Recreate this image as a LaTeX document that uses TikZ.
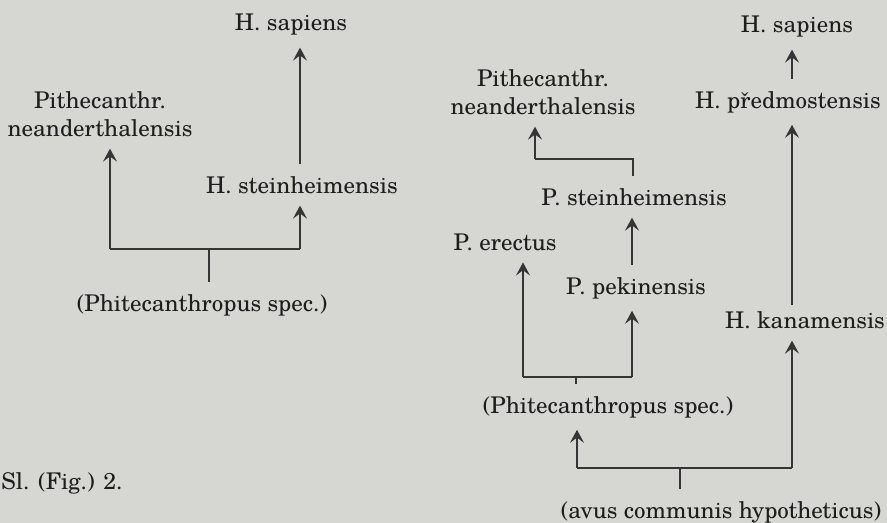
\documentclass[tikz,border=0pt]{standalone}
\usepackage{fontspec}
\setmainfont{TeX Gyre Schola}
\usepackage{xcolor}
\usetikzlibrary{arrows.meta}

\definecolor{paper}{RGB}{214,214,211}
\definecolor{ink}{RGB}{30,30,30}

\begin{document}
\begin{tikzpicture}[
  x=0.5pt, y=-0.5pt,
  taxon/.style={text=ink, font=\fontsize{11.5}{14}\selectfont, inner sep=1pt, outer sep=5pt},
  stem/.style={draw=ink!90, line width=0.7pt},
  arr/.style={stem, -{Stealth[length=6.5pt, width=7pt, inset=2.6pt]}}
]
\useasboundingbox (0,0) rectangle (887,523);
\fill[paper] (0,0) rectangle (887,523);

% left tree
\node [taxon] (sapL)   at (291,25)  {H. sapiens};
\node [taxon, align=center] (neanL) at (100,114) {Pithecanthr.\\neanderthalensis};
\node [taxon] (steinL) at (302,185) {H. steinheimensis};
\node [taxon] (phitL)  at (202,305) {(Phitecanthropus spec.)};
\node [taxon] (fig)    at (62,483)  {Sl. (Fig.) 2.};

\coordinate (legH)  at (110,249);
\coordinate (stemA) at (209,249);
\coordinate (legI)  at (300,249);
\draw [stem] (legH) -- (legI);
\draw [stem] (phitL.north -| stemA) -- (stemA);
\draw [arr] (legH) -- (legH |- neanL.south);
\draw [arr] (legI) -- (legI |- steinL.south);
\draw [arr] (steinL.north -| legI) -- (legI |- sapL.south);

% right tree
\node [taxon] (sapR)   at (797,27)  {H. sapiens};
\node [taxon] (predR)  at (788,102) {H. předmostensis};
\node [taxon, align=center] (neanR) at (543,92) {Pithecanthr.\\neanderthalensis};
\node [taxon] (steinR) at (634,197) {P. steinheimensis};
\node [taxon] (erR)    at (505,242) {P. erectus};
\node [taxon] (pekR)   at (636,288) {P. pekinensis};
\node [taxon, outer sep=2pt] (kanR) at (805,320) {H. kanamensis};
\node [taxon] (phitR)  at (608,407) {(Phitecanthropus spec.)};
\node [taxon] (avus)   at (721,512) {(avus communis hypotheticus)};

\coordinate (legE) at (535,159);
\coordinate (legF) at (633,159);
\draw [stem] (steinR.north -| legF) -- (legF) -- (legE);
\draw [arr] (legE) -- (legE |- neanR.south);

\coordinate (legC)  at (523,377);
\coordinate (stemB) at (576,377);
\coordinate (legD)  at (632,377);
\draw [stem] (legC) -- (legD);
\draw [stem] (phitR.north -| stemB) -- (stemB);
\draw [arr] (legC) -- (legC |- erR.south);
\draw [arr] (legD) -- (legD |- pekR.south);
\draw [arr] (pekR.north -| legD) -- (legD |- steinR.south);

\coordinate (legA)  at (577,468);
\coordinate (stemC) at (680,468);
\coordinate (legB)  at (792,468);
\draw [stem] (legA) -- (legB);
\draw [stem] (avus.north -| stemC) -- (stemC);
\draw [arr] (legA) -- (legA |- phitR.south);
\draw [arr] (legB) -- ([yshift=-3pt]legB |- kanR.south);
\draw [arr] (kanR.north -| legB) -- (legB |- predR.south);
\draw [arr] (predR.north -| legB) -- (legB |- sapR.south);
\end{tikzpicture}
\end{document}
